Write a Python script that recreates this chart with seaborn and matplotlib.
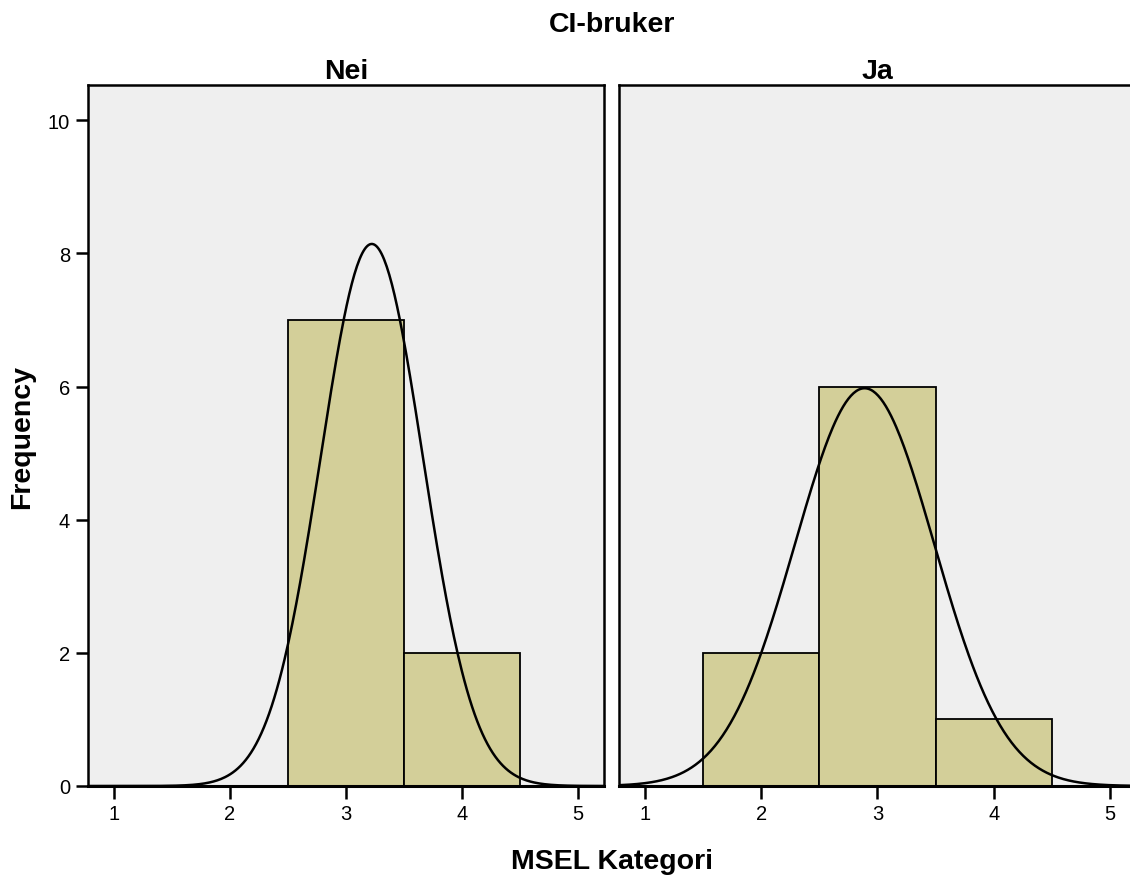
import numpy as np
import pandas as pd
import matplotlib
matplotlib.use("Agg")
import matplotlib.pyplot as plt
import seaborn as sns

# MSEL category per child, split by CI use
groups = ["Nei", "Ja"]
nei_values = [3, 3, 3, 3, 3, 3, 3, 4, 4]
ja_values = [2, 2, 3, 3, 3, 3, 3, 3, 4]
x_ticks = [1, 2, 3, 4, 5]
y_ticks = [0, 2, 4, 6, 8, 10]

df = pd.DataFrame({
    "MSEL Kategori": nei_values + ja_values,
    "CI-bruker": ["Nei"] * len(nei_values) + ["Ja"] * len(ja_values),
})

sns.set_style("white")
plt.rcParams["font.family"] = ["Liberation Sans", "DejaVu Sans"]
plt.rcParams["text.color"] = "black"
plt.rcParams["xtick.color"] = "black"
plt.rcParams["ytick.color"] = "black"

fig = plt.figure(figsize=(11.3, 8.79), dpi=100)
W, H = 1130, 879
panels = [(88, 604), (619, 1136)]
top, bottom = 86, 787

bar_color = "#D3CF99"
bins = np.arange(0.5, 6.0, 1.0)
xs = np.linspace(0.776, 5.224, 400)

for (x0, x1), g in zip(panels, groups):
    ax = fig.add_axes([x0 / W, 1 - bottom / H, (x1 - x0) / W, (bottom - top) / H])
    ax.set_facecolor("#EFEFEF")
    sub = df[df["CI-bruker"] == g]
    sns.histplot(data=sub, x="MSEL Kategori", bins=bins, ax=ax, color=bar_color,
                 alpha=1, edgecolor="black", linewidth=1.3)
    vals = sub["MSEL Kategori"].to_numpy(dtype=float)
    m, s = vals.mean(), vals.std(ddof=1)
    curve = len(vals) / (s * np.sqrt(2 * np.pi)) * np.exp(-0.5 * ((xs - m) / s) ** 2)
    sns.lineplot(x=xs, y=curve, ax=ax, color="black", linewidth=1.8)
    ax.set_xlim(0.776, 5.224)
    ax.set_ylim(0, 10.53)
    ax.set_xticks(x_ticks)
    ax.set_xticklabels([str(t) for t in x_ticks], fontsize=14.5)
    ax.set_xlabel("")
    ax.set_ylabel("")
    if g == "Nei":
        ax.set_yticks(y_ticks)
        ax.set_yticklabels([str(t) for t in y_ticks], fontsize=14.5)
    else:
        ax.set_yticks([])
    ax.tick_params(axis="both", direction="out", length=9, width=1.8, color="black",
                   labelcolor="black", pad=4, bottom=True, left=(g == "Nei"))
    for sp in ax.spines.values():
        sp.set_color("black")
        sp.set_linewidth(1.8)
        sp.set_visible(True)
    ax.spines["bottom"].set_linewidth(2.2)
    ax.set_title(g, fontsize=20.5, fontweight="bold", pad=5, color="black")

fig.text(612 / W, 1 - 25 / H, "CI-bruker", ha="center", va="center",
         fontsize=20.5, fontweight="bold", color="black")
fig.text(612 / W, 1 - 862 / H, "MSEL Kategori", ha="center", va="center",
         fontsize=20.5, fontweight="bold", color="black")
fig.text(22 / W, 1 - 437 / H, "Frequency", ha="center", va="center",
         rotation=90, fontsize=20.5, fontweight="bold", color="black")

fig.savefig("out.png", dpi=100)
